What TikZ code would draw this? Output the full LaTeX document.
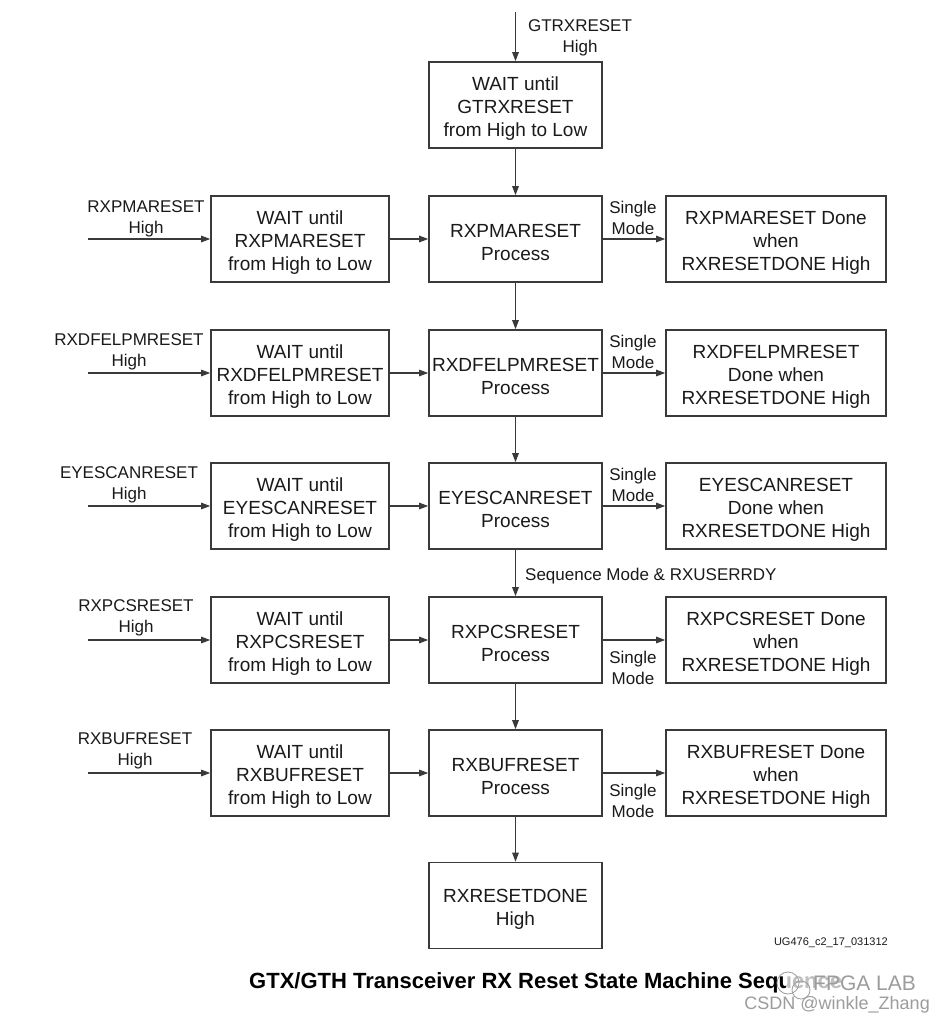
\documentclass[tikz,border=0pt]{standalone}
\usepackage{fontspec}
\setmainfont{Liberation Sans}
\usetikzlibrary{arrows.meta}
\definecolor{ln}{HTML}{3A3A3A}
\definecolor{tx}{HTML}{1A1A1A}
\definecolor{wm}{HTML}{9C9C9C}
\newcommand\tp{\rule{0pt}{20.5pt}}
\tikzset{
  box/.style={draw=ln, line width=1.6pt, align=center, inner sep=0pt, text=tx,
    font=\fontsize{19}{23}\selectfont, minimum height=86pt},
  lbox/.style={box, minimum width=178pt},
  cbox/.style={box, minimum width=173pt},
  rbox/.style={box, minimum width=220pt},
  lab/.style={align=center, inner sep=0pt, text=tx, font=\fontsize{17}{21}\selectfont},
  arr/.style={draw=ln, line width=1.1pt, -{Triangle[length=9pt,width=6.5pt]}}
}
\begin{document}
\begin{tikzpicture}[x=1pt,y=-1pt]
\useasboundingbox (0,0) rectangle (946,1025);
\fill[white] (0,0) rectangle (946,1025);

% top
\coordinate (top) at (515.5,12);
\node[cbox] (w0) at (515.5,105) {\tp WAIT until\\GTRXRESET\\from High to Low};
\node[lab] (l0) at (580,37.5) {GTRXRESET\\High};
\draw[arr] (top) -- (w0);

% rows
\node[lbox] (w1) at (300,239) {\tp WAIT until\\RXPMARESET\\from High to Low};
\node[cbox] (p1) at (515.5,239) {\tp RXPMARESET\\Process};
\node[rbox] (d1) at (776,239) {\tp RXPMARESET Done\\when\\RXRESETDONE High};

\node[lbox] (w2) at (300,373) {\tp WAIT until\\RXDFELPMRESET\\from High to Low};
\node[cbox] (p2) at (515.5,373) {\tp RXDFELPMRESET\\Process};
\node[rbox] (d2) at (776,373) {\tp RXDFELPMRESET\\Done when\\RXRESETDONE High};

\node[lbox] (w3) at (300,506) {\tp WAIT until\\EYESCANRESET\\from High to Low};
\node[cbox] (p3) at (515.5,506) {\tp EYESCANRESET\\Process};
\node[rbox] (d3) at (776,506) {\tp EYESCANRESET\\Done when\\RXRESETDONE High};

\node[lbox] (w4) at (300,640) {\tp WAIT until\\RXPCSRESET\\from High to Low};
\node[cbox] (p4) at (515.5,640) {\tp RXPCSRESET\\Process};
\node[rbox] (d4) at (776,640) {\tp RXPCSRESET Done\\when\\RXRESETDONE High};

\node[lbox] (w5) at (300,773) {\tp WAIT until\\RXBUFRESET\\from High to Low};
\node[cbox] (p5) at (515.5,773) {\tp RXBUFRESET\\Process};
\node[rbox] (d5) at (776,773) {\tp RXBUFRESET Done\\when\\RXRESETDONE High};

\node[cbox] (fin) at (515.5,905.5) {\tp RXRESETDONE\\High};

% input coordinates and labels
\coordinate (i1) at (88,239);
\coordinate (i2) at (88,373);
\coordinate (i3) at (88,506);
\coordinate (i4) at (88,640);
\coordinate (i5) at (88,773);
\node[lab] (il1) at (146,219) {RXPMARESET\\High};
\node[lab] (il2) at (129,352) {RXDFELPMRESET\\High};
\node[lab] (il3) at (129,485) {EYESCANRESET\\High};
\node[lab] (il4) at (136,618) {RXPCSRESET\\High};
\node[lab] (il5) at (135,751) {RXBUFRESET\\High};

\foreach \i in {1,...,5}{
  \draw[arr] (i\i) -- (w\i);
  \draw[arr] (w\i) -- (p\i);
  \draw[arr] (p\i) -- (d\i);
}

% single mode labels
\node[lab] (s1) at (633,218) {Single\\Mode};
\node[lab] (s2) at (633,352) {Single\\Mode};
\node[lab] (s3) at (633,485) {Single\\Mode};
\node[lab] (s4) at (633,668) {Single\\Mode};
\node[lab] (s5) at (633,801) {Single\\Mode};

% vertical arrows
\draw[arr] (w0) -- (p1);
\draw[arr] (p1) -- (p2);
\draw[arr] (p2) -- (p3);
\draw[arr] (p3) -- (p4);
\draw[arr] (p4) -- (p5);
\draw[arr] (p5) -- (fin);
\node[lab, anchor=west] (seq) at (525,576) {Sequence Mode \& RXUSERRDY};

% figure id and title
\node[anchor=east, inner sep=0pt, text=tx, font=\fontsize{11}{13}\selectfont] (id) at (888,943) {UG476\_c2\_17\_031312};
\node[anchor=west, inner sep=0pt, text=black, font=\bfseries\fontsize{22}{26}\selectfont] (title) at (249,983) {GTX/GTH Transceiver RX Reset State Machine Sequence};

% watermark
\fill[white, opacity=0.75] (786,966) rectangle (880,1000);
\draw[wm, line width=0.8pt] (788,983) circle (11pt);
\draw[wm, line width=0.8pt] (801,990) circle (9pt);
\node[anchor=west, inner sep=0pt, text=wm, font=\fontsize{21}{25}\selectfont] (wm1) at (813,983) {FPGA LAB};
\node[anchor=east, inner sep=0pt, text=wm, font=\fontsize{18}{22}\selectfont] (wm2) at (930,1005) {CSDN @winkle\_Zhang};
\end{tikzpicture}
\end{document}
